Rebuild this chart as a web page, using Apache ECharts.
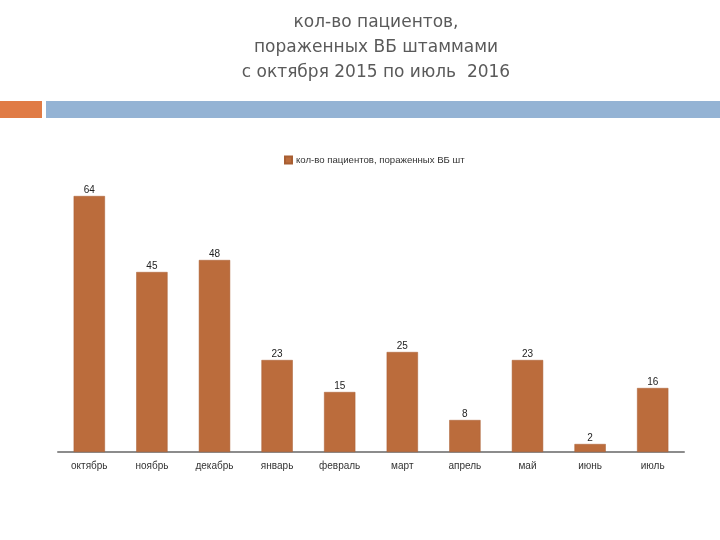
<!DOCTYPE html>
<html><head><meta charset="utf-8">
<script src="https://cdn.jsdelivr.net/npm/echarts@6/dist/echarts.min.js"></script>
<style>html,body{margin:0;padding:0;background:#fff}#c{width:720px;height:540px}</style>
</head><body><div id="c"></div>
<script>
const categories = ['октябрь','ноябрь','декабрь','январь','февраль','март','апрель','май','июнь','июль'];
const values = [64, 45, 48, 23, 15, 25, 8, 23, 2, 16];
const seriesName = 'кол-во пациентов, пораженных ВБ шт';
const titleText = 'кол-во пациентов,\nпораженных ВБ штаммами\nс октября 2015 по июль  2016';

const chart = echarts.init(document.getElementById('c'));
chart.setOption({
  animation: false,
  title: {
    text: titleText, left: 371, top: 5, textAlign: 'center',
    textStyle: {fontFamily: 'DejaVu Sans', fontSize: 17, fontWeight: 'normal', color: '#5a5a5a', lineHeight: 25}
  },
  graphic: [
    {type: 'rect', shape: {x: 0, y: 101, width: 42, height: 17}, style: {fill: '#E07B45'}},
    {type: 'rect', shape: {x: 46, y: 101, width: 674, height: 17}, style: {fill: '#94B3D4'}}
  ],
  legend: {
    top: 150, left: 279, itemWidth: 7, itemHeight: 7, itemGap: 3, icon: 'rect',
    data: [seriesName],
    textStyle: {fontFamily: 'Liberation Sans', fontSize: 9.6, color: '#333', padding: [0,0,0,-1]}
  },
  grid: {left: 58, right: 36, top: 172, bottom: 88, containLabel: false},
  xAxis: {
    type: 'category', data: categories,
    axisLine: {lineStyle: {color: '#8c8c8c', width: 2}},
    axisTick: {show: false},
    axisLabel: {fontFamily: 'Liberation Sans', fontSize: 10, color: '#333', margin: 9}
  },
  yAxis: {type: 'value', min: 0, max: 70, show: false, splitLine: {show: false}},
  series: [{
    name: seriesName, type: 'bar', data: values, barWidth: '50%',
    itemStyle: {color: '#BB6C3C', borderColor: '#a85e32', borderWidth: 0.5},
    label: {show: true, position: 'top', distance: 1, fontFamily: 'Liberation Sans', fontSize: 10, color: '#222'}
  }]
});
</script></body></html>
